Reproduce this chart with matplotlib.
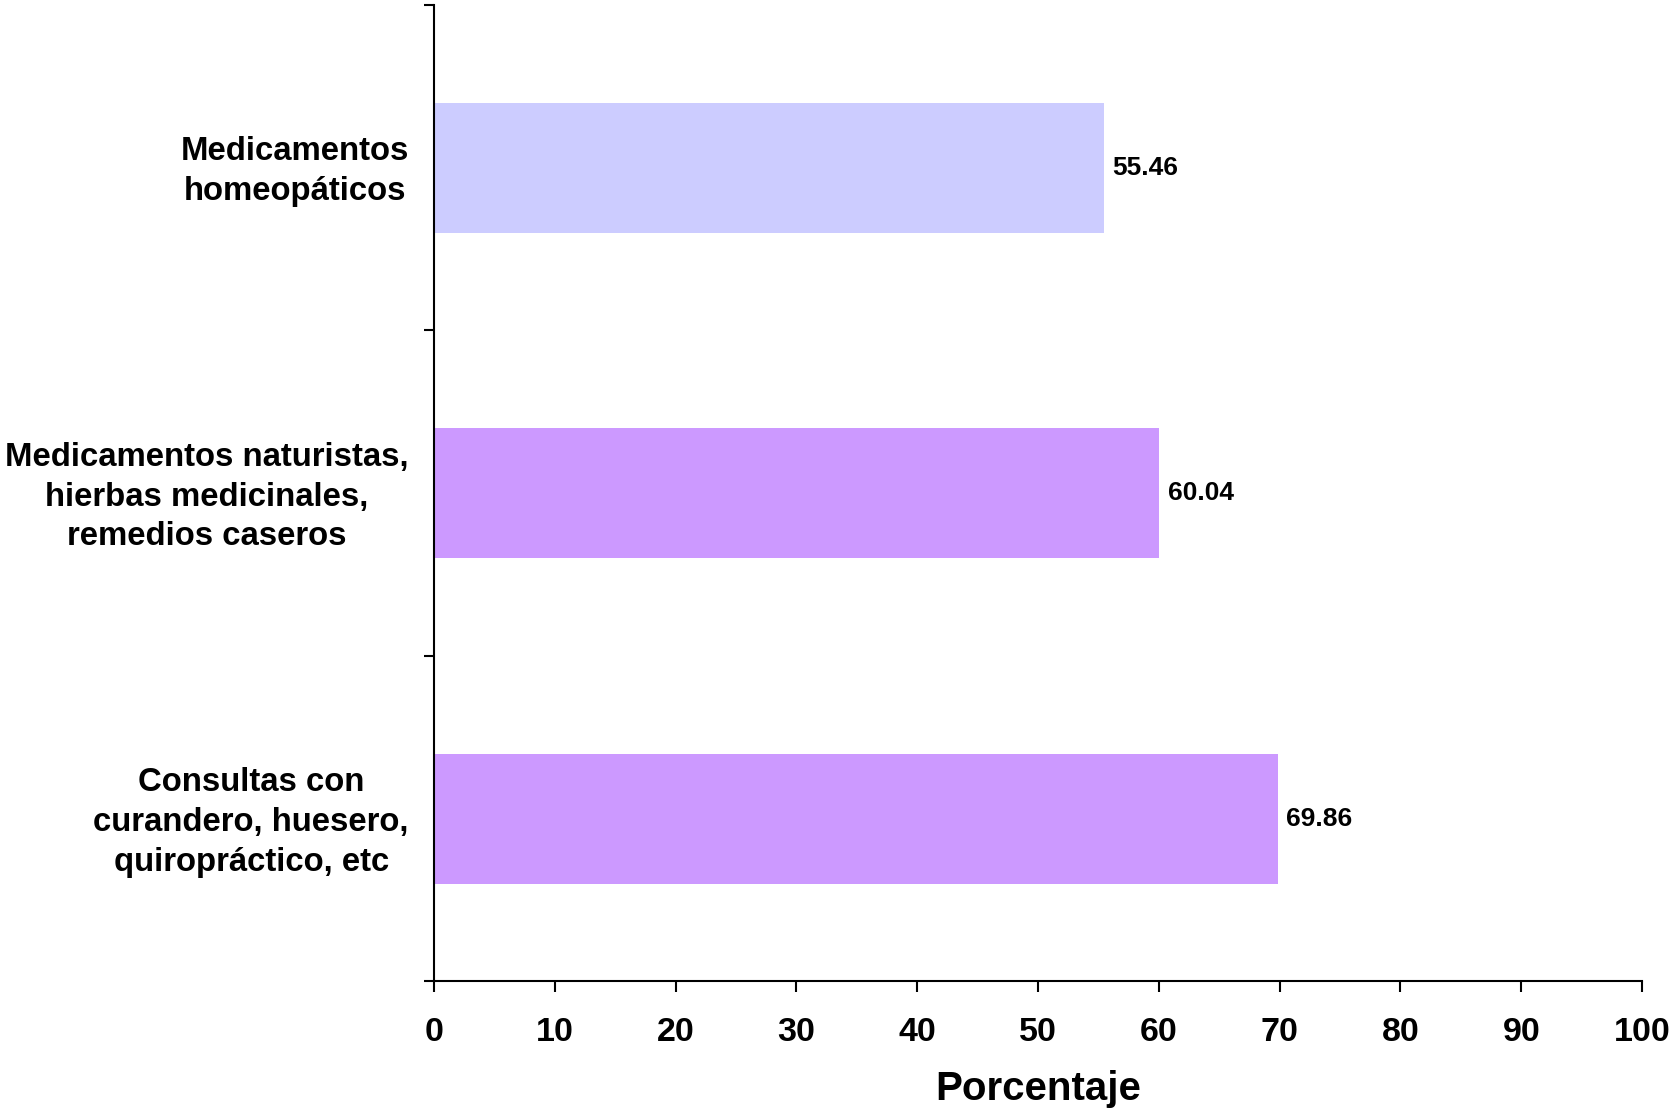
import matplotlib
import matplotlib.pyplot as plt
import matplotlib.transforms as mtransforms

matplotlib.use('agg')

plt.rcParams['font.family'] = ['Liberation Sans', 'DejaVu Sans']
plt.rcParams['font.weight'] = 'bold'

# Categories listed bottom to top
categorias = [
    'Consultas con\ncurandero, huesero,\nquiropráctico, etc',
    'Medicamentos naturistas,\nhierbas medicinales,\nremedios caseros',
    'Medicamentos\nhomeopáticos',
]
porcentajes = [69.86, 60.04, 55.46]
colores = ['#CC99FF', '#CC99FF', '#CCCCFF']

fig = plt.figure(figsize=(16.71, 11.10), dpi=100)
ax = fig.add_axes([0.2597, 0.1158, 0.7230, 0.8797])

pos = list(range(len(categorias)))
ax.barh(pos, porcentajes, height=0.4, color=colores, edgecolor='none')

for p, v in zip(pos, porcentajes):
    ax.text(v + 0.7, p, f'{v:.2f}', va='center', ha='left',
            fontsize=19, fontweight='bold')

ax.set_xlim(0, 100)
ax.set_ylim(-0.5, len(categorias) - 0.5)
ax.set_xticks(range(0, 101, 10))

# category ticks sit between bars, labels at bar centres
ax.set_yticks([-0.5, 0.5, 1.5, 2.5])
ax.set_yticklabels([])
ax.set_yticks(pos, minor=True)
ax.set_yticklabels(categorias, minor=True, multialignment='center',
                   fontsize=23.7, fontweight='bold', linespacing=1.37)
ax.tick_params(axis='y', which='minor', length=0, pad=18)
ax.tick_params(axis='y', which='major', length=7, width=1.5, direction='out')
ax.tick_params(axis='x', length=8, width=1.5, direction='out', labelsize=24.5, pad=17.5)
for lab in ax.get_xticklabels():
    lab.set_fontweight('bold')

# nudge the multi-line category labels up a little
subir = mtransforms.ScaledTranslation(0, 3 / 72, fig.dpi_scale_trans)
for lab in ax.get_yticklabels(minor=True):
    lab.set_transform(lab.get_transform() + subir)

ax.spines['top'].set_visible(False)
ax.spines['right'].set_visible(False)
ax.spines['left'].set_linewidth(1.5)
ax.spines['bottom'].set_linewidth(1.5)

ax.set_xlabel('Porcentaje', fontsize=29, fontweight='bold', labelpad=16)

fig.savefig('out.png', dpi=100)
